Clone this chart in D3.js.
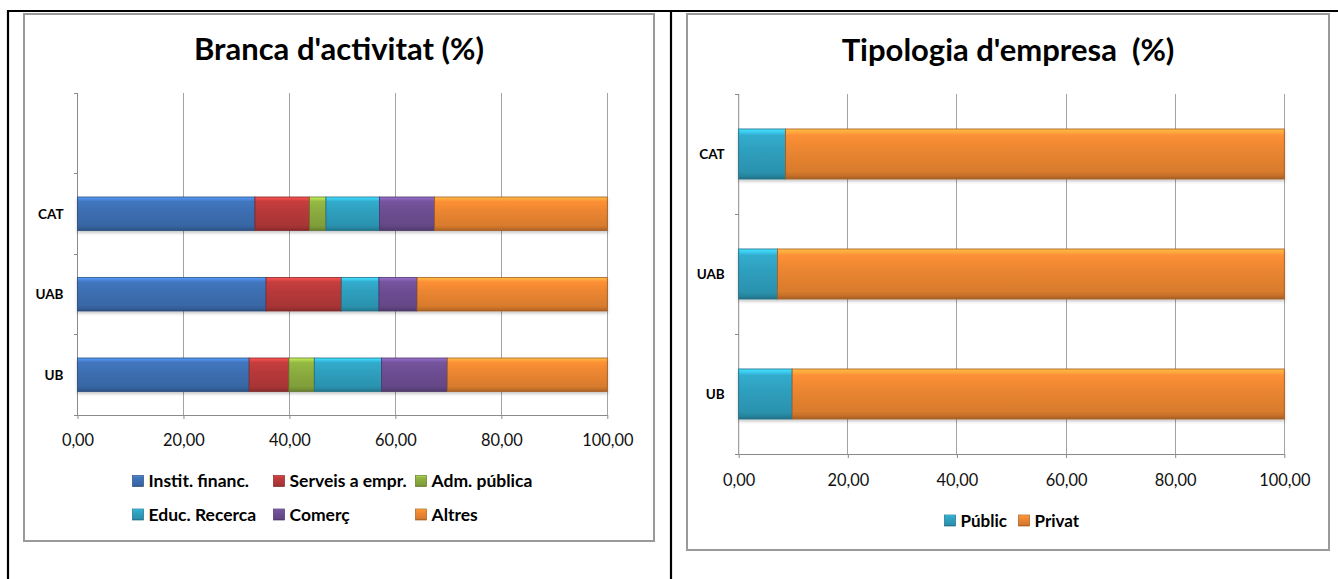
<!DOCTYPE html>
<html><head><meta charset="utf-8">
<script src="https://cdn.jsdelivr.net/npm/d3@7"></script>
<style>
body{margin:0;background:#fff}
svg{display:block}
text{font-family:Lato,"Open Sans","Liberation Sans",sans-serif}
</style>
</head><body>
<svg id="c" width="1338" height="579"></svg>
<script>
// ---------- DATA ----------
const branchCategories = ["UB", "UAB", "CAT", ""];          // bottom -> top
const branchSeries = ["Instit. financ.", "Serveis a empr.", "Adm. pública", "Educ. Recerca", "Comerç", "Altres"];
const institFinanc = [32.4, 35.6, 33.5];
const serveisEmpr  = [7.5, 14.2, 10.3];
const admPublica   = [4.8, 0.0, 3.1];
const educRecerca  = [12.7, 7.1, 10.1];
const comerc       = [12.4, 7.2, 10.4];
const altres       = [30.2, 35.9, 32.6];

const typeCategories = ["UB", "UAB", "CAT"];
const typeSeries = ["Públic", "Privat"];
const publicVals = [9.8, 7.1, 8.6];
const privatVals = [90.2, 92.9, 91.4];

const xTickValues = [0, 20, 40, 60, 80, 100];
const titleBranch = "Branca d'activitat (%)";
const titleType = "Tipologia d'empresa\u00a0\u00a0(%)";

const branchColors = ["#3d6fb3", "#b8393a", "#8cad3f", "#2fa0bf", "#6d4e93", "#ec8631"];
const typeColors = ["#2fa0bf", "#ec8631"];

// ---------- SETUP ----------
const svg = d3.select("#c");
svg.append("rect").attr("width", 1338).attr("height", 579).attr("fill", "#fff");
const defs = svg.append("defs");

const f = defs.append("filter").attr("id", "shadow").attr("x", "-5%").attr("y", "-20%").attr("width", "110%").attr("height", "160%");
f.append("feDropShadow").attr("dx", 0).attr("dy", 2).attr("stdDeviation", 1.4)
  .attr("flood-color", "#000").attr("flood-opacity", 0.22);

const gradCache = {};
function gradient(color) {
  if (gradCache[color]) return gradCache[color];
  const id = "g" + Object.keys(gradCache).length;
  const c = d3.color(color);
  const lg = defs.append("linearGradient").attr("id", id)
    .attr("x1", 0).attr("y1", 0).attr("x2", 0).attr("y2", 1);
  [[0, c.brighter(1.0)], [0.07, c.brighter(0.6)], [0.13, c.brighter(0.2)],
   [0.4, c], [0.85, c.darker(0.25)], [0.93, c.darker(0.5)], [1, c.darker(1.0)]]
    .forEach(([o, col]) => lg.append("stop").attr("offset", o).attr("stop-color", col.formatHex()));
  gradCache[color] = "url(#" + id + ")";
  return gradCache[color];
}

const fmt = d => d3.format(".2f")(d).replace(".", ",");

// outer page frame
const frame = svg.append("g").attr("stroke", "#000").attr("stroke-width", 2.2);
frame.append("line").attr("x1", 7).attr("x2", 1338).attr("y1", 11).attr("y2", 11);
frame.append("line").attr("x1", 8).attr("x2", 8).attr("y1", 10).attr("y2", 579);
frame.append("line").attr("x1", 671).attr("x2", 671).attr("y1", 10).attr("y2", 579);

function drawChart(o) {
  const g = svg.append("g");
  // chart box
  g.append("rect").attr("x", o.box[0]).attr("y", o.box[1]).attr("width", o.box[2]).attr("height", o.box[3])
    .attr("fill", "#fff").attr("stroke", "#9a9a9a").attr("stroke-width", 2);

  // title
  g.append("text").attr("x", o.box[0] + o.box[2] / 2).attr("y", o.titleY)
    .attr("text-anchor", "middle").attr("font-weight", 700).attr("font-size", o.titleSize)
    .attr("fill", "#000").text(o.title);

  const x = d3.scaleLinear().domain([0, 100]).range(o.xRange);
  const yDomain = o.categories.slice().reverse();
  const y = d3.scaleBand().domain(yDomain).range(o.yRange)
    .paddingInner(o.pad).paddingOuter(o.pad / 2);
  const step = y.step();

  // gridlines
  g.append("g").selectAll("line").data(xTickValues.filter(d => d > 0)).join("line")
    .attr("x1", d => x(d)).attr("x2", d => x(d))
    .attr("y1", o.yRange[0]).attr("y2", o.yRange[1])
    .attr("stroke", "#a3a3a3").attr("stroke-width", 1).attr("shape-rendering", "crispEdges");

  // x axis
  const xa = g.append("g").attr("transform", `translate(0,${o.yRange[1]})`)
    .call(d3.axisBottom(x).tickValues(xTickValues).tickFormat(fmt).tickSize(4).tickSizeOuter(0));
  xa.select(".domain").attr("stroke", "#8a8a8a");
  xa.selectAll(".tick line").attr("stroke", "#8a8a8a");
  xa.selectAll(".tick text").attr("dy", null).attr("y", o.tickLabelDy)
    .attr("font-size", o.tickSize).attr("fill", "#111").attr("font-family", "Lato");

  // y axis line + ticks
  const ya = g.append("g");
  ya.append("line").attr("x1", o.xRange[0]).attr("x2", o.xRange[0])
    .attr("y1", o.yRange[0]).attr("y2", o.yRange[1]).attr("stroke", "#8a8a8a");
  ya.selectAll("line.t").data(d3.range(yDomain.length + 1)).join("line").attr("class", "t")
    .attr("x1", o.xRange[0] - 4).attr("x2", o.xRange[0])
    .attr("y1", i => o.yRange[0] + i * step).attr("y2", i => o.yRange[0] + i * step)
    .attr("stroke", "#8a8a8a").attr("shape-rendering", "crispEdges");
  ya.selectAll("text").data(yDomain).join("text")
    .attr("x", o.xRange[0] - 14).attr("y", d => y(d) + y.bandwidth() / 2 + 5)
    .attr("text-anchor", "end").attr("font-weight", 700).attr("font-size", o.catSize)
    .attr("fill", "#000").text(d => d);

  // stacked bars
  const rows = o.categories.map((c, i) => {
    const r = { cat: c };
    o.series.forEach((s, j) => r[s] = o.values[j][i]);
    return r;
  }).filter(r => o.series.some(s => r[s] !== undefined));
  const stacked = d3.stack().keys(o.series)(rows);
  const barG = g.append("g").attr("filter", "url(#shadow)");
  stacked.forEach((layer, j) => {
    barG.append("g").selectAll("rect").data(layer.filter(d => d[1] - d[0] > 0)).join("rect")
      .attr("x", d => x(d[0])).attr("width", d => x(d[1]) - x(d[0]))
      .attr("y", d => y(d.data.cat)).attr("height", y.bandwidth())
      .attr("fill", gradient(o.colors[j]))
      .attr("stroke", d3.color(o.colors[j]).darker(1).formatHex()).attr("stroke-width", 0.8);
  });

  // legend
  const lg = g.append("g");
  o.series.forEach((s, j) => {
    const col = j % o.legendCols, row = Math.floor(j / o.legendCols);
    const lx = o.legendX[col], ly = o.legendY[row];
    lg.append("rect").attr("x", lx).attr("y", ly - 5.5).attr("width", 11).attr("height", 11)
      .attr("fill", gradient(o.colors[j]))
      .attr("stroke", d3.color(o.colors[j]).darker(1).formatHex()).attr("stroke-width", 0.7);
    lg.append("text").attr("x", lx + 16).attr("y", ly + 6)
      .attr("font-weight", 700).attr("font-size", o.legendSize).attr("fill", "#000").text(s);
  });
}

drawChart({
  box: [24, 14, 630, 527],
  title: titleBranch, titleY: 60, titleSize: 31,
  xRange: [77.5, 607.3], yRange: [93, 415], pad: 0.584,
  categories: branchCategories, series: branchSeries,
  values: [institFinanc, serveisEmpr, admPublica, educRecerca, comerc, altres],
  colors: branchColors,
  tickSize: 16.4, tickLabelDy: 31, catSize: 13.5,
  legendCols: 3, legendX: [132.5, 273.5, 415.5], legendY: [481, 514.5], legendSize: 17.5
});

drawChart({
  box: [687, 14, 642, 536],
  title: titleType, titleY: 61, titleSize: 31,
  xRange: [738.7, 1284.3], yRange: [94, 454], pad: 0.583,
  categories: typeCategories, series: typeSeries,
  values: [publicVals, privatVals],
  colors: typeColors,
  tickSize: 16.4, tickLabelDy: 32, catSize: 13.5,
  legendCols: 2, legendX: [944.5, 1018.5], legendY: [520.5], legendSize: 17
});
</script>
</body></html>
